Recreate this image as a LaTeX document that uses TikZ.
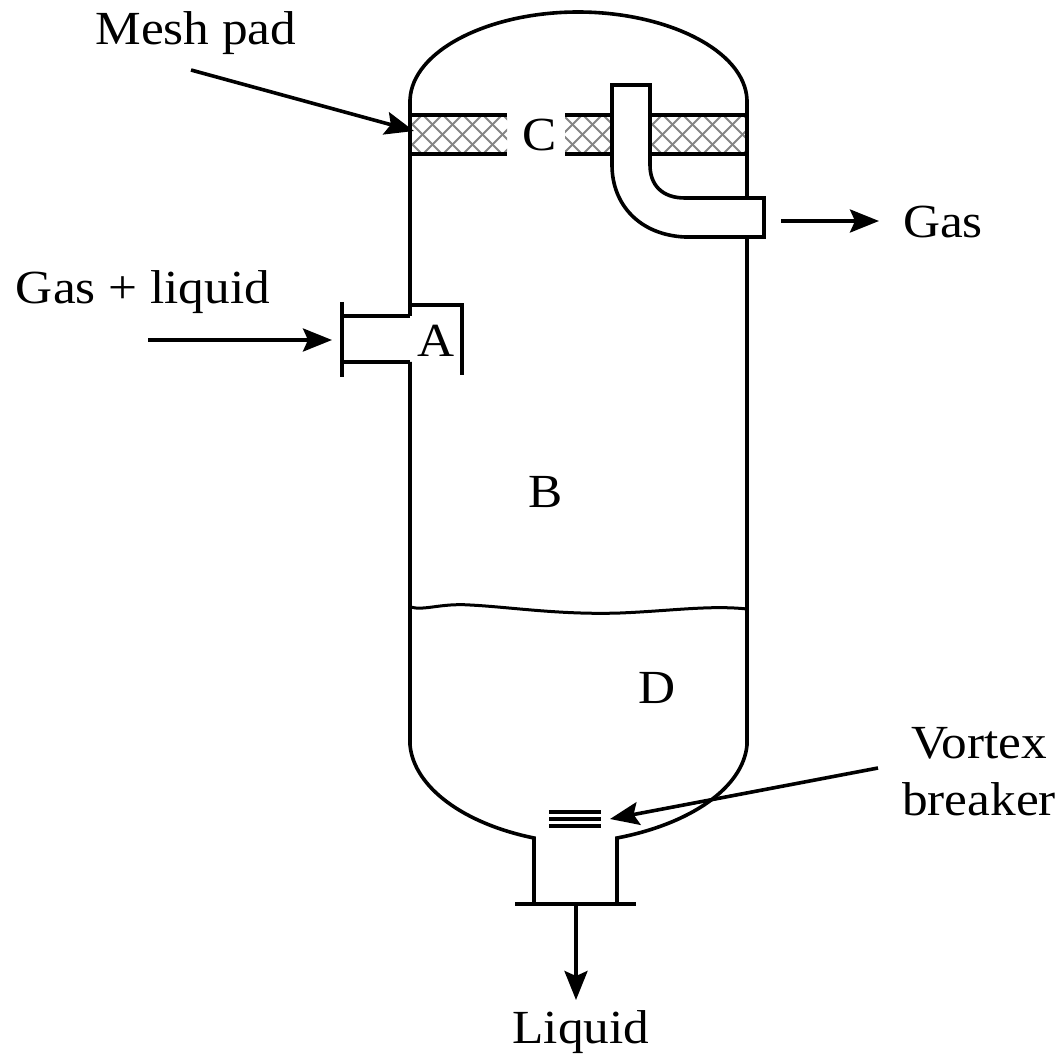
\documentclass[tikz,border=0pt]{standalone}
\usepackage{fontspec}
\setmainfont[FakeStretch=1.08]{Liberation Serif}
\usetikzlibrary{arrows.meta}
\tikzset{
  wall/.style={line width=3.6pt,line join=miter,line cap=butt},
  flow/.style={line width=3.6pt,-{Stealth[length=29pt,width=23pt,inset=5pt]}},
  lab/.style={inner sep=0pt,font=\fontsize{47.5}{57}\selectfont},
  hatchline/.style={line width=2pt,black!48},
}
\begin{document}
\begin{tikzpicture}[x=1pt,y=-1pt]
\useasboundingbox (0,0) rectangle (1061,1059);
% mesh hatching
\begin{scope}
\clip (410,115) rectangle (507,154) (565,115) rectangle (610,154) (650,115) rectangle (747,154);
\foreach \k in {-4,...,40}{
  \draw[hatchline] (400+\k*20,112) -- (445+\k*20,157);
  \draw[hatchline] (445+\k*20,112) -- (400+\k*20,157);
}
\end{scope}
% named points
\coordinate (inTop) at (410,316);
\coordinate (inBot) at (410,362);
\coordinate (meshTail) at (191,70);
\coordinate (meshTip) at (414,131);
\coordinate (gasTail) at (781,221);
\coordinate (gasTip) at (879,221);
\coordinate (feedTail) at (148,340);
\coordinate (feedTip) at (332,340);
\coordinate (vortexTail) at (878,768);
\coordinate (vortexTip) at (610,819);
\coordinate (liqTail) at (576,905);
\coordinate (liqTip) at (576,1000);
% shell
\draw[wall] (inTop) -- (410,100) .. controls (412,50) and (490,12) .. (578,12) .. controls (666,12) and (745,50) .. (747,100) -- (747,198);
\draw[wall] (747,237) -- (747,745) .. controls (743,788) and (690,824) .. (617,838) -- (617,904);
\draw[wall] (inBot) -- (410,745) .. controls (414,788) and (465,824) .. (534,838) -- (534,904);
% bottom flange
\draw[wall] (515,904) -- (636,904);
% vortex breaker
\draw[line width=3.8pt] (549,812) -- (601,812) (549,819) -- (601,819) (549,826) -- (601,826);
% liquid level
\draw[line width=3pt] (410,607) .. controls (425,611) and (440,603) .. (470,605) .. controls (510,607) and (560,615) .. (620,613) .. controls (670,611) and (710,605) .. (747,609);
% mesh band lines
\draw[wall] (410,115) -- (507,115) (410,154) -- (507,154);
\draw[wall] (565,115) -- (610,115) (565,154) -- (610,154);
\draw[wall] (650,115) -- (747,115) (650,154) -- (747,154);
\draw[wall] (747,115) -- (747,154);
% gas outlet pipe
\draw[wall,fill=white] (612,165) -- (612,85) -- (650,85) -- (650,165) .. controls (650,185) and (662,198) .. (685,198) -- (764,198) -- (764,237) -- (685,237) .. controls (640,235) and (612,205) .. (612,165) -- cycle;
% feed nozzle
\draw[wall] (342,302) -- (342,377);
\draw[wall] (342,316) -- (inTop);
\draw[wall] (342,362) -- (inBot);
\draw[wall] (410,305) -- (462,305) -- (462,375);
% arrows
\draw[flow] (meshTail) -- (meshTip);
\draw[flow] (gasTail) -- (gasTip);
\draw[flow] (feedTail) -- (feedTip);
\draw[flow] (vortexTail) -- (vortexTip);
\draw[flow] (liqTail) -- (liqTip);
% labels
\node[lab] (mesh) at (196,33) {Mesh pad};
\node[lab] (gas) at (943,222) {Gas};
\node[lab] (feed) at (143,292) {Gas + liquid};
\node[lab] (A) at (436,341) {A};
\node[lab] (B) at (546,492) {B};
\node[lab] (C) at (540,135) {C};
\node[lab] (D) at (657,688) {D};
\node[lab,align=center] (vortex) at (979,772) {Vortex\\breaker};
\node[lab] (liquid) at (581,1032) {Liquid};
\end{tikzpicture}
\end{document}
